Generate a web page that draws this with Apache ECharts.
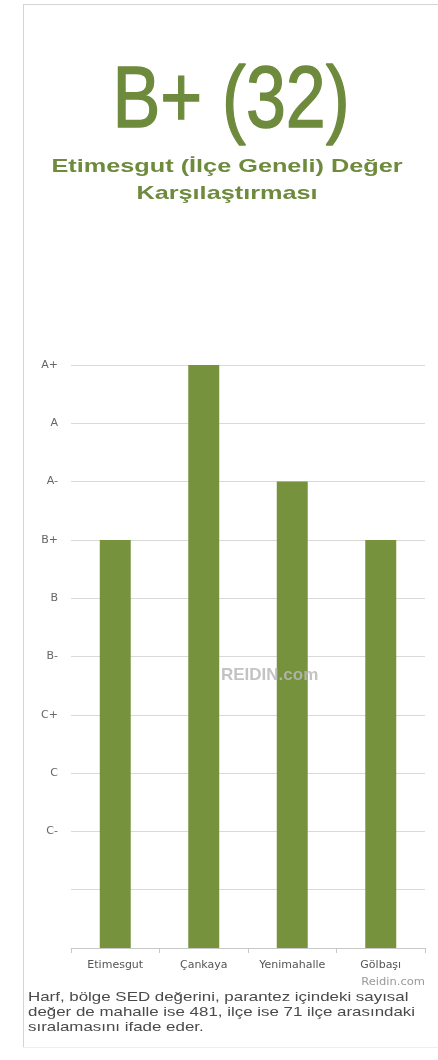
<!DOCTYPE html>
<html>
<head>
<meta charset="utf-8">
<script src="https://cdn.jsdelivr.net/npm/echarts@6/dist/echarts.min.js"></script>
<style>
html,body{margin:0;padding:0;background:#fff;}
#c{width:438px;height:1060px;}
</style>
</head>
<body>
<div id="c"></div>
<script>
var categories = ['Etimesgut', 'Çankaya', 'Yenimahalle', 'Gölbaşı'];
var values = [7, 10, 8, 7];
var tickLabels = ['', '', 'C-', 'C', 'C+', 'B-', 'B', 'B+', 'A-', 'A', 'A+'];
var mainTitle = 'B+ (32)';
var subTitle = 'Etimesgut (İlçe Geneli) Değer\nKarşılaştırması';
var footNote = 'Harf, bölge SED değerini, parantez içindeki sayısal\ndeğer de mahalle ise 481, ilçe ise 71 ilçe arasındaki\nsıralamasını ifade eder.';

var chart = echarts.init(document.getElementById('c'), null, {renderer: 'canvas'});
var green = '#76923c';
chart.setOption({
  animation: false,
  backgroundColor: '#fff',
  grid: {left: 71, right: 13, top: 365, bottom: 112, containLabel: false},
  xAxis: {
    type: 'category',
    data: categories,
    axisLine: {lineStyle: {color: '#c8c8c8', width: 1}},
    axisTick: {show: true, length: 5, lineStyle: {color: '#c8c8c8'}},
    axisLabel: {color: '#555', fontFamily: 'DejaVu Sans', fontSize: 11, margin: 12}
  },
  yAxis: {
    type: 'value', min: 0, max: 10, interval: 1,
    axisLine: {show: false}, axisTick: {show: false},
    splitLine: {lineStyle: {color: '#d9d9d9', width: 1}},
    axisLabel: {
      color: '#666', fontFamily: 'DejaVu Sans', fontSize: 11, margin: 13,
      formatter: function (v) { return tickLabels[Math.round(v)] || ''; }
    }
  },
  series: [{
    type: 'bar', data: values, barWidth: '35%',
    itemStyle: {color: green}, silent: true
  }],
  graphic: [
    {type: 'line', shape: {x1: 23.5, y1: 4, x2: 23.5, y2: 1048}, style: {stroke: '#d4d4d4', lineWidth: 1}, silent: true},
    {type: 'line', shape: {x1: 23, y1: 4.5, x2: 438, y2: 4.5}, style: {stroke: '#d4d4d4', lineWidth: 1}, silent: true},
    {type: 'line', shape: {x1: 23, y1: 1047.5, x2: 438, y2: 1047.5}, style: {stroke: '#eeeeee', lineWidth: 1}, silent: true},
    {type: 'text', x: 231, y: 103, scaleX: 0.815, originX: 0, originY: 0,
      style: {text: mainTitle, fill: '#6e8b3d', stroke: '#6e8b3d', lineWidth: 1.5, font: '88px "Liberation Sans", Arial, sans-serif', align: 'center', verticalAlign: 'middle'}},
    {type: 'text', x: 227, y: 180, scaleX: 1.33, originX: 0, originY: 0,
      style: {text: subTitle, fill: '#6e8b3d', font: 'bold 19px "Liberation Sans", Arial, sans-serif', align: 'center', verticalAlign: 'middle', lineHeight: 27}},
    {type: 'text', x: 425, y: 982, scaleX: 1.15, originX: 0, originY: 0,
      style: {text: 'Reidin.com', fill: '#999', font: '10px "DejaVu Sans", sans-serif', align: 'right', verticalAlign: 'middle'}},
    {type: 'text', x: 28, y: 1012, z: 10, scaleX: 1.3, originX: 0, originY: 0,
      style: {text: footNote, fill: '#4a4a4a', font: '13px "Liberation Sans", Arial, sans-serif', align: 'left', verticalAlign: 'middle', lineHeight: 15}},
    {type: 'text', x: 221, y: 675, z: 100,
      style: {text: 'REIDIN.com', fill: 'rgba(185,185,185,0.85)', font: 'bold 17px "Liberation Sans", Arial, sans-serif', align: 'left', verticalAlign: 'middle'}}
  ]
});
</script>
</body>
</html>
